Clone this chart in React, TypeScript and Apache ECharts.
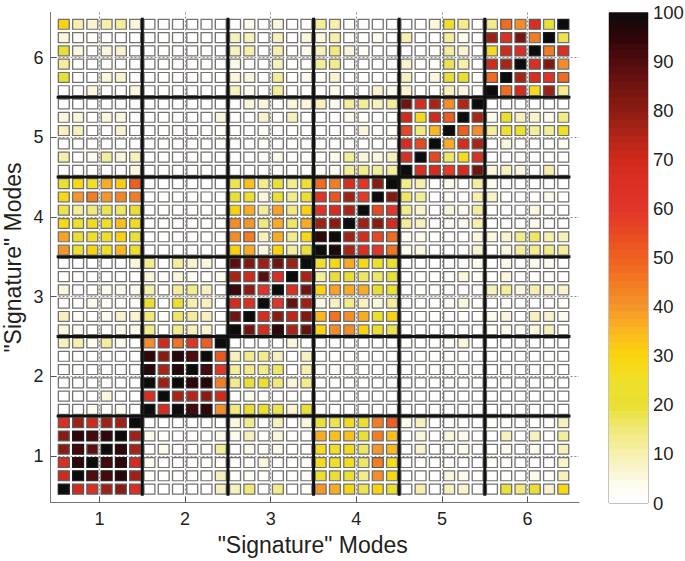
import React, { useEffect, useRef } from "react";
import * as echarts from "echarts";

const tickValues = [1, 2, 3, 4, 5, 6];
const dividers = [1.5, 2.5, 3.5, 4.5, 5.5];
const colorbarTicks = [0, 10, 20, 30, 40, 50, 60, 70, 80, 90, 100];

const colorStops: [number, string][] = [
  [0, "#ffffff"], [3, "#fefdf3"], [6, "#faf6d8"], [10, "#f6f0ae"], [15, "#f1ea78"], [20, "#e8df30"],
  [25, "#efdf2c"], [30, "#fad60c"], [35, "#fbb81f"], [40, "#f5952a"], [45, "#f37a22"], [50, "#ef6021"],
  [55, "#e84a22"], [60, "#e2352a"], [65, "#dc2f23"], [70, "#d02a1c"], [75, "#b02418"], [80, "#8c1c12"],
  [85, "#701410"], [90, "#500c0e"], [95, "#2e0508"], [100, "#0c0c0c"],
];

// one array per row, top row first, left column first
const r01 = [30,10,7,10,11,6,1,0,1,0,0,0,1,4,0,6,1,1,11,10,1,0,0,0,1,0,5,22,14,0,13,48,42,66,20,100];
const r02 = [6,2,2,0,1,1,0,0,0,0,0,0,8,9,0,9,0,5,5,10,0,0,4,0,10,0,1,11,4,0,77,65,83,44,100,18];
const r03 = [21,5,1,6,7,0,0,0,0,0,0,1,9,10,0,10,0,4,9,15,5,3,0,0,1,1,1,12,7,0,27,70,66,100,45,67];
const r04 = [12,0,0,0,0,0,0,0,0,0,0,0,4,1,0,9,0,0,11,13,0,1,1,1,7,0,3,18,10,0,70,76,100,67,82,42];
const r05 = [20,1,1,5,7,0,0,0,0,0,0,1,5,6,0,12,0,4,3,7,0,0,0,0,8,0,5,20,21,1,47,100,76,67,62,48];
const r06 = [1,1,5,0,0,5,0,0,0,0,0,1,9,4,0,11,0,0,0,4,0,1,7,4,7,0,0,9,5,0,100,47,68,28,77,13];
const r07 = [0,0,0,0,0,1,0,0,0,0,0,0,0,5,5,1,5,5,8,4,12,12,9,12,85,68,76,42,74,100,0,0,0,0,0,0];
const r08 = [5,5,1,5,5,0,0,0,0,0,0,5,0,0,7,0,8,0,0,0,4,3,0,0,70,27,70,50,100,75,4,21,9,7,4,14];
const r09 = [8,9,1,1,7,0,0,0,0,0,0,2,0,0,2,0,0,0,0,0,1,6,1,3,55,15,35,100,50,42,11,22,22,12,11,25];
const r10 = [0,0,0,0,0,0,0,0,0,0,0,0,0,0,2,0,1,0,0,0,0,0,1,1,68,55,100,36,68,75,0,5,3,1,1,4];
const r11 = [10,1,4,11,5,9,1,0,0,0,0,0,1,0,1,4,0,0,3,4,12,5,5,9,67,100,55,17,28,65,0,0,0,0,0,0];
const r12 = [0,0,0,1,0,5,0,0,0,0,0,0,0,0,0,0,0,0,3,4,12,13,12,11,100,66,68,58,68,85,6,8,6,1,10,1];
const r13 = [22,29,25,36,32,50,0,0,0,0,0,0,18,34,13,20,14,24,47,44,66,60,80,100,14,10,0,4,1,11,4,0,1,0,1,0];
const r14 = [29,40,45,40,43,44,0,0,0,0,0,0,20,22,6,20,14,21,60,53,78,58,100,82,16,11,1,3,1,10,7,0,1,0,4,0];
const r15 = [18,12,15,18,17,21,0,0,0,0,0,0,30,36,12,38,15,30,62,68,76,100,56,60,13,7,0,6,4,11,0,0,1,5,0,0];
const r16 = [29,23,27,26,33,27,0,0,0,0,0,0,41,40,15,37,17,37,77,80,100,77,80,68,11,8,1,2,4,10,0,0,1,4,0,1];
const r17 = [38,23,26,25,31,20,0,0,0,0,0,0,41,45,8,37,14,29,95,100,78,68,55,47,4,4,0,0,0,6,6,7,13,16,10,9];
const r18 = [40,24,30,26,35,21,0,0,0,0,0,0,30,36,6,30,12,20,100,97,76,65,60,46,4,5,0,0,0,7,0,5,12,14,13,11];
const r19 = [1,0,0,0,1,5,14,0,11,7,6,0,88,82,78,85,77,100,22,29,36,29,22,24,0,1,0,1,1,4,1,4,0,4,4,0];
const r20 = [0,0,0,0,1,1,6,0,5,3,0,4,76,70,88,66,100,76,11,19,21,16,16,19,0,0,0,1,5,3,1,5,0,1,0,0];
const r21 = [6,1,1,4,4,4,10,0,11,13,9,0,93,81,62,100,66,85,30,38,36,37,21,23,0,3,0,1,1,1,9,12,5,10,7,7];
const r22 = [1,1,4,3,1,0,21,0,21,10,9,1,68,66,100,60,87,78,5,9,13,9,5,11,0,0,1,2,5,3,0,0,0,0,0,0];
const r23 = [8,3,0,4,7,7,15,3,16,11,9,0,85,100,68,80,72,82,35,46,41,36,22,30,0,1,1,1,1,3,4,6,1,9,7,4];
const r24 = [5,2,0,1,4,4,13,0,13,9,7,0,100,85,68,95,76,86,30,41,41,30,21,18,0,0,0,1,0,0,3,4,3,6,9,2];
const r25 = [9,10,4,12,4,1,42,70,46,62,50,100,0,1,1,0,5,0,0,0,0,0,0,0,2,0,0,3,5,0,1,1,0,1,0,0];
const r26 = [0,0,0,0,0,0,95,80,96,90,100,52,8,13,14,9,0,9,0,0,0,0,0,0,0,0,0,0,0,0,0,0,0,0,0,0];
const r27 = [0,0,0,0,0,0,96,76,96,100,92,60,11,13,13,16,1,10,0,0,0,0,0,0,0,0,0,0,0,0,0,0,0,0,0,0];
const r28 = [0,0,1,0,1,0,100,77,100,95,96,44,14,20,23,15,5,14,0,0,0,0,0,0,0,0,0,0,0,0,0,0,0,0,0,0];
const r29 = [1,1,0,5,0,0,67,100,76,74,80,70,0,4,0,0,0,0,0,0,0,0,0,0,0,0,0,0,0,0,0,0,0,0,0,0];
const r30 = [1,0,4,0,4,0,100,68,100,92,94,41,15,21,24,18,7,20,0,0,0,0,0,0,0,1,0,0,0,0,0,0,0,0,0,0];
const r31 = [65,78,70,78,78,100,0,0,0,0,0,1,5,13,0,8,0,5,20,18,28,21,44,50,4,8,0,0,0,1,3,0,0,0,1,9];
const r32 = [80,95,92,95,100,77,4,0,1,0,0,4,4,9,0,6,0,1,36,33,33,19,44,33,0,6,0,6,4,0,0,9,0,8,0,12];
const r33 = [80,92,88,100,95,76,0,4,0,0,0,12,1,4,3,4,0,0,27,26,27,17,40,35,1,7,0,1,4,0,0,4,0,4,0,9];
const r34 = [66,95,100,92,95,68,4,0,1,0,0,2,0,1,6,1,0,1,28,25,27,17,45,27,0,2,0,1,1,0,3,0,0,1,1,7];
const r35 = [70,100,90,92,96,78,0,1,0,0,0,8,0,2,0,1,0,1,24,22,24,14,42,29,0,1,0,5,4,0,1,1,0,4,0,8];
const r36 = [100,70,66,78,80,65,1,1,0,0,1,9,9,15,0,13,0,0,40,36,29,18,30,23,0,10,0,8,7,0,0,20,15,21,7,29];
const rows = [r01,r02,r03,r04,r05,r06,r07,r08,r09,r10,r11,r12,r13,r14,r15,r16,r17,r18,r19,r20,r21,r22,r23,r24,r25,r26,r27,r28,r29,r30,r31,r32,r33,r34,r35,r36];

const LEVELS = 64;
const TEXT = "#231f20";
const FONT = "Liberation Sans";

function hex(c: string) {
  return [1, 3, 5].map((i) => parseInt(c.slice(i, i + 2), 16));
}
function colorAt(raw: number) {
  const level = Math.min(LEVELS - 1, Math.floor((raw / 100) * LEVELS));
  const v = ((level + 0.5) / LEVELS) * 100;
  let i = 0;
  while (i < colorStops.length - 2 && v > colorStops[i + 1][0]) i++;
  const [a, ca] = colorStops[i];
  const [b, cb] = colorStops[i + 1];
  const t = raw >= 100 ? 1 : (v - a) / (b - a);
  const x = hex(ca), y = hex(cb);
  return `rgb(${x.map((p, k) => Math.round(p + (y[k] - p) * t)).join(",")})`;
}

const cells = rows.flatMap((row, r) =>
  row.map((v, c) => ({
    value: [0.5 + (c + 0.5) / 6, 6.5 - (r + 0.5) / 6, v],
    itemStyle: { color: colorAt(v), borderColor: v >= 90 ? "#1c1c1c" : v >= 45 ? "#5a5a5a" : "#727272" },
  }))
);

// nested bars, tallest first, so that neighbouring bands share no seam
const colorbarSeries = Array.from({ length: LEVELS }, (_, n) => {
  const i = LEVELS - 1 - n;
  return {
    type: "bar" as const,
    xAxisIndex: 1,
    yAxisIndex: 2,
    barWidth: "100%",
    barGap: "-100%",
    silent: true,
    z: 2 + n / 100,
    data: [((i + 1) * 100) / LEVELS],
    itemStyle: { color: colorAt(((i + 0.5) / LEVELS) * 100) },
  };
});

const dividerSeries = dividers.flatMap((d) => [
  { data: [[d, 0.5], [d, 6.5]] },
  { data: [[0.5, d], [6.5, d]] },
]).map((s) => ({
  type: "line" as const,
  ...s,
  symbol: "none",
  silent: true,
  z: 5,
  lineStyle: { color: "#111", width: 3, cap: "butt" as const },
}));

const majorAxis = (extra: any) => ({
  type: "value",
  axisLine: { show: true, onZero: false, lineStyle: { color: "#777", width: 1 } },
  axisTick: { show: true, inside: true, length: 6, customValues: tickValues, lineStyle: { color: "#555" } },
  axisLabel: { customValues: tickValues, color: TEXT, fontSize: 18, fontFamily: FONT, margin: 7 },
  splitLine: { show: true, lineStyle: { color: "#8c8c8c", type: [2, 2], width: 1 } },
  nameLocation: "middle",
  nameMoveOverlap: false,
  ...extra,
});

export default function App() {
  const ref = useRef<HTMLDivElement>(null);
  useEffect(() => {
    const chart = echarts.init(ref.current!, undefined, { renderer: "svg" });
    chart.setOption({
      animation: false,
      backgroundColor: "#ffffff",
      grid: [
        { left: 50.5, top: 12.5, width: 528.5, height: 490, outerBoundsMode: "none" },
        { left: 609, top: 12.5, width: 39, height: 490.5, outerBoundsMode: "none", show: true, backgroundColor: "transparent", borderColor: "#888", borderWidth: 1 },
      ],
      xAxis: [
        majorAxis({
          gridIndex: 0, min: 0.428, max: 6.6, name: '"Signature" Modes', nameGap: 31,
          nameTextStyle: { color: TEXT, fontSize: 23, fontFamily: FONT, padding: [0, 4, 0, 0] },
        }),
        { gridIndex: 1, type: "category", data: ["cb"], axisLine: { show: false }, axisTick: { show: false }, axisLabel: { show: false } },
      ],
      yAxis: [
        majorAxis({
          gridIndex: 0, min: 0.415, max: 6.565, name: '"Signature" Modes', nameGap: 26,
          nameTextStyle: { color: TEXT, fontSize: 23, fontFamily: FONT },
        }),
        {
          gridIndex: 1, type: "value", min: 0, max: 100, interval: 10, position: "left",
          axisLine: { show: false },
          axisTick: { show: true, inside: true, length: 5, customValues: colorbarTicks.slice(1, -1), lineStyle: { color: "#444" } },
          axisLabel: { show: false }, splitLine: { show: false },
        },
        {
          gridIndex: 1, type: "value", min: 0, max: 100, interval: 10, position: "right",
          axisLine: { show: false },
          axisTick: { show: true, inside: true, length: 5, customValues: colorbarTicks.slice(1, -1), lineStyle: { color: "#444" } },
          axisLabel: { color: TEXT, fontSize: 18.5, fontFamily: FONT, margin: 5, customValues: colorbarTicks },
          splitLine: { show: false },
        },
      ],
      series: [
        {
          type: "scatter",
          xAxisIndex: 0,
          yAxisIndex: 0,
          symbol: "rect",
          symbolSize: [10.9, 9.9],
          silent: true,
          large: false,
          progressive: 0,
          z: 3,
          itemStyle: { borderWidth: 1.25, opacity: 1 },
          data: cells,
        },
        ...dividerSeries,
        ...colorbarSeries,
      ],
    });
    return () => chart.dispose();
  }, []);
  return <div ref={ref} style={{ position: "absolute", left: 0, top: 0, width: 685, height: 561 }} />;
}
